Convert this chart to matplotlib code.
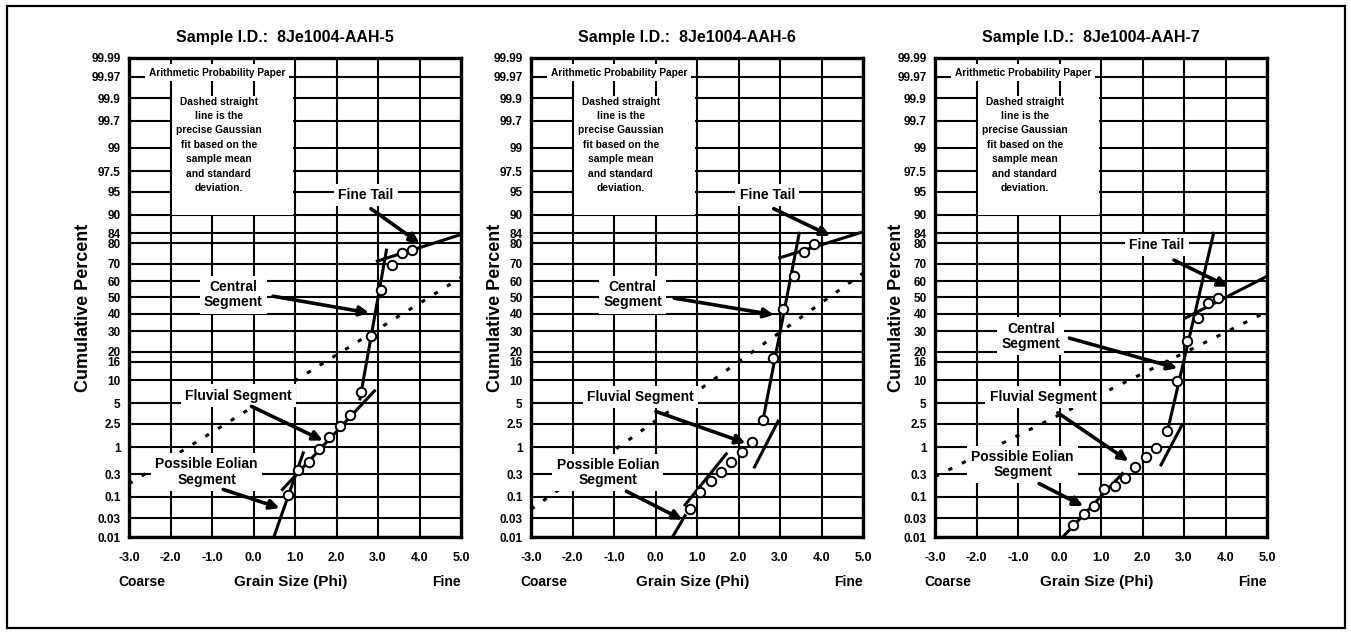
import matplotlib
matplotlib.use('Agg')
import matplotlib.pyplot as plt
from matplotlib.patches import Rectangle
from matplotlib.ticker import NullLocator
import numpy as np
from statistics import NormalDist

plt.rcParams['font.family'] = ['Liberation Sans', 'DejaVu Sans']
plt.rcParams['font.weight'] = 'bold'

# ---- data ----
samples = ['8Je1004-AAH-5', '8Je1004-AAH-6', '8Je1004-AAH-7']

pct_ticks = [0.01, 0.03, 0.1, 0.3, 1, 2.5, 5, 10, 16, 20, 30, 40, 50, 60, 70,
             80, 84, 90, 95, 97.5, 99, 99.7, 99.9, 99.97, 99.99]
phi_ticks = [-3.0, -2.0, -1.0, 0.0, 1.0, 2.0, 3.0, 4.0, 5.0]

phi_1 = [0.83, 1.08, 1.33, 1.58, 1.83, 2.08, 2.33, 2.58, 2.83, 3.08, 3.33, 3.58, 3.83]
cum_1 = [0.111, 0.368, 0.523, 0.94, 1.50, 2.28, 3.36, 7.08, 27.4, 54.8, 69.5, 75.5, 77.0]

phi_2 = [0.83, 1.08, 1.33, 1.58, 1.83, 2.08, 2.33, 2.58, 2.83, 3.08, 3.33, 3.58, 3.83]
cum_2 = [0.050, 0.126, 0.219, 0.336, 0.523, 0.82, 1.25, 2.81, 17.4, 43.2, 63.3, 75.8, 79.7]

phi_3 = [0.33, 0.58, 0.83, 1.08, 1.33, 1.58, 1.83, 2.08, 2.33, 2.58, 2.83, 3.08,
         3.33, 3.58, 3.83]
cum_3 = [0.020, 0.039, 0.060, 0.144, 0.170, 0.248, 0.427, 0.656, 0.964, 1.92, 9.85,
         25.1, 37.4, 46.4, 49.6]

# dashed gaussian fit, ends at phi -3 and 5
gauss_phi = [-3.0, 5.0]
gauss_1 = [0.19, 62.2]
gauss_2 = [0.05, 64.7]
gauss_3 = [0.27, 41.3]

# hand drawn segment lines: (phi0, phi1), (pct0, pct1)
segs_1 = [((0.49, 1.21), (0.01, 0.84)),
          ((0.67, 2.94), (0.135, 7.6)),
          ((2.56, 3.21), (5.5, 77.6)),
          ((2.95, 5.0), (71.2, 83.6))]
segs_2 = [((0.41, 0.73), (0.01, 0.038)),
          ((0.69, 1.73), (0.06, 0.80)),
          ((2.37, 2.97), (0.40, 2.87)),
          ((2.57, 3.47), (2.44, 84.6)),
          ((2.96, 5.0), (72.9, 84.6))]
segs_3 = [((0.08, 1.54), (0.01, 0.33)),
          ((2.43, 2.96), (0.44, 2.44)),
          ((2.60, 3.72), (1.88, 84.6)),
          ((3.0, 5.0), (37.1, 62.9))]

# labels: text, text pos, arrow start, arrow tip  (phi, pct)
notes_1 = [('Fine Tail', (2.71, 94.4), (2.83, 91.6), (4.0, 80.0)),
           ('Central\nSegment', (-0.49, 51.6), (0.47, 50.8), (2.79, 40.5)),
           ('Fluvial Segment', (-0.37, 6.4), (-0.05, 4.55), (1.67, 1.32)),
           ('Possible Eolian\nSegment', (-1.13, 0.336), (-0.73, 0.144), (0.63, 0.054))]
notes_2 = [('Fine Tail', (2.69, 94.4), (2.85, 91.6), (4.21, 83.1)),
           ('Central\nSegment', (-0.55, 51.6), (0.45, 49.6), (2.85, 39.4)),
           ('Fluvial Segment', (-0.37, 6.06), (0.01, 3.84), (2.17, 1.19)),
           ('Possible Eolian\nSegment', (-1.15, 0.326), (-0.70, 0.131), (0.65, 0.028))]
notes_3 = [('Fine Tail', (2.35, 79.4), (2.76, 71.9), (4.06, 56.7)),
           ('Central\nSegment', (-0.69, 27.4), (0.24, 26.4), (2.84, 13.6)),
           ('Fluvial Segment', (-0.40, 6.06), (-0.04, 3.67), (1.66, 0.554)),
           ('Possible Eolian\nSegment', (-0.89, 0.48), (-0.49, 0.193), (0.57, 0.060))]

paper_title = 'Arithmetic Probability Paper'
paper_note = ('Dashed straight\nline is the\nprecise Gaussian\nfit based on the\n'
              'sample mean\nand standard\ndeviation.')

# ---- probability (probit) axis ----
_nd = NormalDist()
_ppf = np.vectorize(lambda v: _nd.inv_cdf(v / 100.0), otypes=[float])
_cdf = np.vectorize(lambda v: 100.0 * _nd.cdf(v), otypes=[float])


def pct_to_z(p):
    p = np.clip(np.asarray(p, dtype=float), 1e-7, 100 - 1e-7)
    return _ppf(p)


def z_to_pct(z):
    return _cdf(np.asarray(z, dtype=float))


W, H = 1351, 632
fig = plt.figure(figsize=(W / 100, H / 100), dpi=100)

# outer frame
fig.add_artist(Rectangle((7 / W, 1 - 628 / H), 1338 / W, 622 / H, transform=fig.transFigure,
                         fill=False, lw=1.6, ec='black'))

panel_left = [129, 531, 935]
ylab_x = [-0.11, -0.080, -0.091]

panels = [(phi_1, cum_1, gauss_1, segs_1, notes_1),
          (phi_2, cum_2, gauss_2, segs_2, notes_2),
          (phi_3, cum_3, gauss_3, segs_3, notes_3)]

for i, (phi, cum, gauss, segs, notes) in enumerate(panels):
    ax = fig.add_axes([panel_left[i] / W, (H - 537) / H, 332 / W, 479 / H])
    ax.set_yscale('function', functions=(pct_to_z, z_to_pct))
    ax.set_xlim(-3, 5)
    ax.set_ylim(0.01, 99.99)
    ax.set_yticks(pct_ticks)
    ax.set_yticklabels(['%g' % v for v in pct_ticks])
    ax.yaxis.set_minor_locator(NullLocator())
    ax.set_xticks(phi_ticks)
    ax.set_xticklabels(['%.1f' % v for v in phi_ticks])
    ax.tick_params(axis='y', length=0, pad=6, labelsize=8.5)
    ax.tick_params(axis='x', length=0, pad=11, labelsize=9)
    for lab in ax.get_xticklabels() + ax.get_yticklabels():
        lab.set_fontweight('bold')
    ax.set_axisbelow(True)
    ax.grid(True, color='black', lw=1.5)
    for sp in ax.spines.values():
        sp.set_linewidth(2.4)

    # white blank area for the paper note
    ax.add_patch(Rectangle((-1.96, 90.0), 2.9, 99.91 - 90.0, facecolor='white',
                           edgecolor='none', zorder=1))
    ax.text(-0.88, 99.976, paper_title, ha='center', va='center', fontsize=7.3,
            fontweight='bold', zorder=5,
            bbox=dict(facecolor='white', edgecolor='none', pad=2.5))
    ax.text(-0.84, 99.11, paper_note, ha='center', va='center', fontsize=7.4,
            fontweight='bold', zorder=5, linespacing=1.55)

    # gaussian fit
    ax.plot(gauss_phi, gauss, color='black', lw=2.2, ls=(0, (1.4, 3.5)), zorder=2)

    for xs, ys in segs:
        ax.plot(xs, ys, color='black', lw=2.2, solid_capstyle='butt', zorder=3)

    ax.plot(phi, cum, 'o', ms=6.8, mfc='white', mec='black', mew=1.4, zorder=4)

    for txt, tpos, a0, a1 in notes:
        ax.text(tpos[0], tpos[1], txt, ha='center', va='center', fontsize=10,
                fontweight='bold', zorder=6, linespacing=1.1,
                bbox=dict(facecolor='white', edgecolor='none', pad=3))
        ax.annotate('', xy=a1, xytext=a0, zorder=6,
                    arrowprops=dict(arrowstyle='-|>', color='black', lw=2.6,
                                    mutation_scale=14, shrinkA=0, shrinkB=0))

    ax.text(0.47, 1.042, 'Sample I.D.:  ' + samples[i], transform=ax.transAxes,
            ha='center', va='center', fontsize=11.5, fontweight='bold')
    ax.set_ylabel('Cumulative Percent', fontsize=13, fontweight='bold')
    ax.yaxis.set_label_coords(ylab_x[i], 0.478)
    ax.text(-0.033, -0.094, 'Coarse', transform=ax.transAxes, ha='left',
            va='center', fontsize=10, fontweight='bold')
    ax.text(0.487, -0.094, 'Grain Size (Phi)', transform=ax.transAxes, ha='center',
            va='center', fontsize=11, fontweight='bold')
    ax.text(1.0, -0.094, 'Fine', transform=ax.transAxes, ha='right',
            va='center', fontsize=10, fontweight='bold')

fig.savefig('out.png', dpi=100)
